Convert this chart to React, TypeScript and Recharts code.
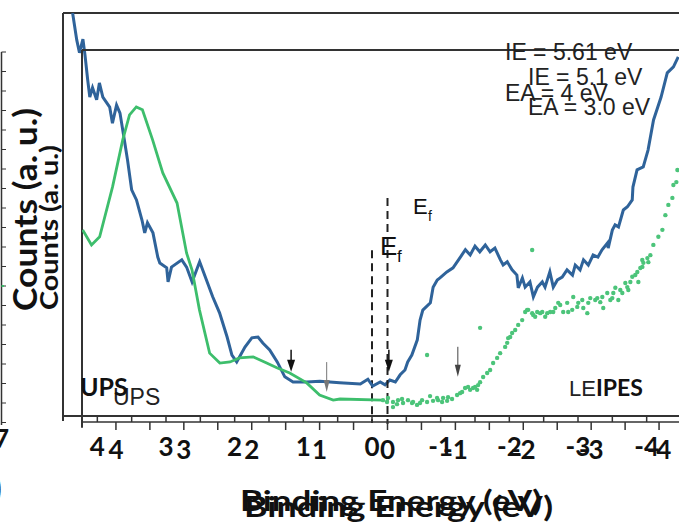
import React from "react";
import {
  LineChart,
  ComposedChart,
  Line,
  Scatter,
  XAxis,
  YAxis,
  ReferenceLine,
  ReferenceDot,
} from "recharts";

// tick positions shared by both overlaid frames (binding energy, eV)
const xTicks = [4, 3.5, 3, 2.5, 2, 1.5, 1, 0.5, 0, -0.5, -1, -1.5, -2, -2.5, -3, -3.5, -4];

// frame A (outer plot): blue spectrum, x = binding energy, y = counts (a.u.)
const blueX = [
  4.36, 4.3, 4.26, 4.21, 4.18, 4.14, 4.11, 4.07, 4.01, 3.97, 3.92, 3.82, 3.78, 3.72, 3.67, 3.6,
  3.56, 3.5, 3.43, 3.35, 3.31, 3.27, 3.19, 3.12, 3.09, 2.99, 2.97, 2.92, 2.77, 2.7, 2.62, 2.51,
  2.4, 2.32, 2.22, 2.11, 2.04, 1.97, 1.85, 1.75, 1.66, 1.59, 1.49, 1.38, 1.27, 1.15, 0.95, 0.76,
  0.47, 0.17, 0.06, -0.01, -0.12, -0.19, -0.26, -0.34, -0.41, -0.48, -0.52, -0.58, -0.66, -0.7,
  -0.74, -0.85, -0.89, -0.95, -0.99, -1.09, -1.18, -1.28, -1.36, -1.43, -1.5, -1.57, -1.65,
  -1.72, -1.79, -1.87, -1.91, -1.97, -2.04, -2.11, -2.13, -2.19, -2.23, -2.3, -2.35, -2.41,
  -2.48, -2.52, -2.59, -2.64, -2.7, -2.77, -2.84, -2.92, -2.96, -3.03, -3.08, -3.15, -3.22,
  -3.29, -3.35, -3.43, -3.44, -3.5, -3.54, -3.59, -3.66, -3.72, -3.79, -3.8, -3.86, -3.95,
  -4.02, -4.1, -4.21, -4.3, -4.39, -4.46,
];
const blueY = [
  100, 93.3, 90.1, 93.5, 89.6, 83.3, 79.1, 81.4, 78.4, 82.6, 79.1, 76.6, 72.6, 77.1, 75.1, 67.7,
  63.4, 56, 53.5, 48.5, 45.3, 47.8, 45.3, 39.3, 37.8, 36.6, 33.1, 36.8, 38.6, 36.8, 33.1, 38.1,
  33.1, 29.4, 25.4, 19.4, 14.9, 13.2, 16.9, 19.2, 19.4, 17.9, 16.2, 13.2, 9.5, 8.2, 8.2, 8.4,
  8.0, 7.7, 8.9, 7.2, 8.2, 7.5, 8.7, 8.2, 10.0, 11.2, 13.2, 14.9, 18.7, 23.6,
  26.1, 27.9, 31.8, 33.6, 34.1, 35.6, 36.6, 39.1, 41.1, 39.8, 42.0, 40.6, 42.3,
  40.6, 41.5, 38.6, 37.3, 38.1, 36.1, 34.8, 31.6, 34.1, 31.8, 33.1, 29.4, 31.8,
  33.1, 31.8, 35.6, 31.8, 33.6, 34.3, 36.1, 34.8, 37.3, 36.1, 38.6, 37.3, 39.8,
  39.3, 41.1, 42.8, 41.5, 46.0, 47.3, 46.8, 51.0, 51.8, 53.5, 56.7, 61.0, 61.7,
  65.9, 73.4, 79.1, 85.1, 86.6, 89.1,
];

// frame B (inner plot): green UPS line
const upsX = [
  4.49, 4.36, 4.24, 4.05, 3.9, 3.8, 3.7, 3.61, 3.46, 3.31, 3.1, 2.96, 2.88, 2.77, 2.62, 2.47,
  2.32, 2.18, 1.98, 1.78, 1.63, 1.44, 1.19, 1.0, 0.8, 0.7, 0.07,
];
const upsY = [
  51.0, 46.9, 49.1, 62.7, 75.5, 82.3, 84.5, 83.7, 75.5, 66.5, 58.3, 44.7, 40.1, 29.2, 17.4, 14.7,
  15.0, 16.1, 16.4, 14.7, 13.4, 12.0, 9.3, 6.0, 4.6, 4.9, 4.6,
];

// frame B: green IPES points
const ipesX = [
  0.066, -0.007, -0.081, -0.081, -0.155, -0.229, -0.302, -0.376, -0.435, -0.509, -0.583, -0.627,
  -0.671, -0.745, -0.819, -0.892, -0.951, -1.025, -1.099, -1.143, -1.187, -1.261, -1.32, -1.364,
  -1.409, -1.468, -1.512, -1.556, -1.615, -1.659, -1.733, -1.763, -1.777, -1.807, -1.836, -1.881,
  -1.925, -1.984, -2.028, -2.072, -2.146, -2.205, -2.249, -2.323, -2.397, -2.471, -2.544, -2.588,
  -2.647, -2.721, -2.736, -2.81, -2.884, -2.943, -2.987, -3.06, -3.134, -3.178, -3.237, -3.311,
  -3.356, -3.4, -3.459, -3.503, -3.547, -3.606, -3.65, -3.695, -3.724, -3.753, -3.769, -3.828,
  -3.872, -3.916, -3.99, -4.049, -4.093, -4.137, -4.196, -4.211, -4.255, -4.27, -0.583, -1.364,
  -2.131, -2.057, -2.131, -2.175, -2.279, -2.353, -2.441, -2.515, -2.662, -2.795, -2.869, -2.957,
  -3.09, -3.164, -3.282, -3.326, -3.429, -3.532, -3.577, -3.68, -3.754, -3.842, 0.007, -0.14,
  -0.214, -0.361, -0.479, -0.73, -0.804, -0.878, -1.069, -1.217, -1.291, -1.335,
];
const ipesY = [
  4.6, 5.2, 4.1, 2.7, 4.6, 3.8, 4.6, 4.1, 3.3, 4.6, 4.1, 5.7,
  4.4, 4.6, 5.2, 5.4, 4.9, 6.0, 6.8, 7.9, 8.2, 7.9, 7.4, 9.5,
  10.9, 12.0, 12.8, 14.7, 16.1, 17.4, 19.1, 20.2, 21.5, 21.8, 22.9, 23.7,
  25.1, 26.4, 28.6, 29.2, 27.8, 28.6, 28.3, 27.3, 28.6, 29.7, 30.5, 28.6,
  31.1, 29.2, 32.7, 31.1, 29.7, 28.3, 32.4, 31.9, 31.3, 29.7, 33.8, 32.4,
  35.2, 31.9, 33.8, 36.5, 34.6, 38.2, 38.7, 36.8, 40.6, 42.8, 42.0, 43.3,
  44.1, 46.9, 49.1, 51.0, 55.0, 57.8, 59.7, 63.2, 64.0, 67.3, 16.9, 24.3,
  45.5, 29.2, 28.3, 27.3, 28.6, 28.3, 28.6, 31.1, 28.6, 30.0, 31.9, 31.1,
  32.4, 32.7, 31.9, 33.8, 34.6, 35.4, 36.8, 39.5, 40.9, 42.2, 4.1, 3.5,
  4.9, 3.8, 3.8, 5.2, 4.1, 4.4, 6.5, 7.4, 8.2, 8.7,
];

// arrow markers (tip positions, in each frame's own units)
const arrowsAX = [0.66, -1.25];
const arrowsAY = [5.7, 9.5];
const arrowsBX = [1.42, -0.02];
const arrowsBY = [12.3, 12.3];

const blueData = blueX.map((x, i) => ({ x, y: blueY[i] }));
const upsData = upsX.map((x, i) => ({ x, y: upsY[i] }));
const ipesData = ipesX.map((x, i) => ({ x, y: ipesY[i] }));

const BLUE = "#2f639a";
const GREEN = "#3dbe6c";
const DOT = "#4cc47a";
const FRAME = "#333";

const calibri = "Lato, 'Open Sans', sans-serif";
const arial = "'Liberation Sans', Arial, sans-serif";

function tickLabel(dy: number) {
  return (props: any) => {
    const { x, y, payload } = props;
    if (!Number.isInteger(payload.value)) return <g />;
    return (
      <text x={x} y={y + dy} textAnchor="middle" fontFamily={calibri} fontWeight={700} fontSize={26} fill="#111">
        {String(payload.value)}
      </text>
    );
  };
}

function arrow(len: number, color: string, w: number, head: number) {
  return (p: any) => (
    <g>
      <line x1={p.cx} y1={p.cy - len} x2={p.cx} y2={p.cy - 6} stroke={color} strokeWidth={w} />
      <polygon
        points={`${p.cx - head / 2},${p.cy - 12} ${p.cx + head / 2},${p.cy - 12} ${p.cx},${p.cy}`}
        fill={color}
      />
    </g>
  );
}

function LeftStrip() {
  const ticks = [];
  for (let y = 52; y <= 425; y += 19.5) ticks.push(y);
  return (
    <g>
      <line x1={1.5} y1={52} x2={1.5} y2={425} stroke={FRAME} strokeWidth={1.5} />
      {ticks.map((y) => (
        <line key={y} x1={1.5} y1={y} x2={6} y2={y} stroke={FRAME} strokeWidth={1} />
      ))}
      <line x1={1.5} y1={286} x2={4} y2={286} stroke={GREEN} strokeWidth={2} />
      <text x={-6} y={448} fontFamily={calibri} fontWeight={700} fontSize={26} fill="#111">7</text>
      <text x={-9} y={502} fontFamily={calibri} fontWeight={700} fontSize={40} fill="#111">)</text>
    </g>
  );
}

export default function App() {
  return (
    <div
      style={{
        position: "absolute",
        left: 0,
        top: 0,
        width: 679,
        height: 525,
        overflow: "hidden",
        background: "#fff",
      }}
    >
      {/* frame A: outer plot with the blue spectrum */}
      <div style={{ position: "absolute", left: 0, top: 0 }}>
        <LineChart width={681} height={525} margin={{ top: 13, right: 0, bottom: 0, left: 63 }}>
          <XAxis
            type="number"
            dataKey="x"
            domain={[-4.5, 4.5]}
            reversed
            ticks={xTicks}
            interval={0}
            height={109}
            tickSize={6}
            axisLine={{ stroke: FRAME, strokeWidth: 2 }}
            tickLine={{ stroke: FRAME, strokeWidth: 1.5 }}
            tick={tickLabel(32)}
            allowDataOverflow
          />
          <YAxis type="number" domain={[-0.25, 100]} width={0} hide allowDataOverflow />
          <ReferenceLine y={100} stroke={FRAME} strokeWidth={2} />
          <ReferenceLine
            segment={[{ x: 4.5, y: 100 }, { x: 4.5, y: -1.5 }]}
            stroke={FRAME}
            strokeWidth={2}
            ifOverflow="visible"
          />
          <ReferenceLine
            segment={[{ x: 0, y: 41 }, { x: 0, y: -2 }]}
            stroke="#222"
            strokeWidth={2}
            strokeDasharray="8 5"
            ifOverflow="visible"
          />
          {arrowsAX.map((x, i) => (
            <ReferenceDot
              key={i}
              x={x}
              y={arrowsAY[i]}
              r={0}
              ifOverflow="visible"
              shape={arrow(30, i === 0 ? "#777" : "#444", 1, 6)}
            />
          ))}
          <Line
            data={blueData}
            dataKey="y"
            stroke={BLUE}
            strokeWidth={3}
            dot={false}
            isAnimationActive={false}
          />
        </LineChart>
      </div>

      {/* frame B: inner plot with UPS line and IPES points */}
      <div style={{ position: "absolute", left: 0, top: 0 }}>
        <ComposedChart width={693} height={525} margin={{ top: 50, right: 0, bottom: 0, left: 82 }}>
          <XAxis
            type="number"
            dataKey="x"
            domain={[-4.5, 4.5]}
            reversed
            ticks={xTicks}
            interval={0}
            height={103}
            tickSize={8}
            axisLine={{ stroke: FRAME, strokeWidth: 1.5 }}
            tickLine={{ stroke: FRAME, strokeWidth: 1.5 }}
            tick={tickLabel(27)}
            allowDataOverflow
          />
          <YAxis type="number" domain={[-1.36, 100]} width={0} hide allowDataOverflow />
          <ReferenceLine y={100} stroke={FRAME} strokeWidth={2} />
          <ReferenceLine
            segment={[{ x: 4.5, y: 100 }, { x: 4.5, y: -2.9 }]}
            stroke={FRAME}
            strokeWidth={2}
            ifOverflow="visible"
          />
          <ReferenceLine
            segment={[{ x: 0, y: 59.7 }, { x: 0, y: -1.9 }]}
            stroke="#222"
            strokeWidth={2}
            strokeDasharray="8 5"
            ifOverflow="visible"
          />
          {arrowsBX.map((x, i) => (
            <ReferenceDot
              key={i}
              x={x}
              y={arrowsBY[i]}
              r={0}
              ifOverflow="visible"
              shape={arrow(22, "#111", 1.5, 8)}
            />
          ))}
          <Line
            data={upsData}
            dataKey="y"
            stroke={GREEN}
            strokeWidth={2.8}
            dot={false}
            isAnimationActive={false}
          />
          <Scatter
            data={ipesData}
            dataKey="y"
            isAnimationActive={false}
            shape={(p: any) => <circle cx={p.cx} cy={p.cy} r={2.2} fill={DOT} />}
          />
        </ComposedChart>
      </div>

      {/* labels and annotations of the two overlaid figures */}
      <svg width={679} height={525} style={{ position: "absolute", left: 0, top: 0, pointerEvents: "none" }}>
        <LeftStrip />
        <text
          transform="translate(37,311) rotate(-90)"
          fontFamily={calibri}
          fontWeight={700}
          fontSize={32}
          textLength={203}
          lengthAdjust="spacingAndGlyphs"
          fill="#111"
        >
          Counts (a. u.)
        </text>
        <text
          transform="translate(58,310) rotate(-90)"
          fontFamily={calibri}
          fontWeight={700}
          fontSize={24}
          textLength={165}
          lengthAdjust="spacingAndGlyphs"
          fill="#111"
        >
          Counts (a. u.)
        </text>
        <text x={240} y={511} fontFamily={calibri} fontWeight={700} fontSize={28} textLength={302} lengthAdjust="spacingAndGlyphs" fill="#111">
          Binding Energy (eV)
        </text>
        <text x={244} y={517} fontFamily={calibri} fontWeight={700} fontSize={28} textLength={309} lengthAdjust="spacingAndGlyphs" fill="#111">
          Binding Energy (eV)
        </text>

        <text x={505} y={60} fontFamily={arial} fontSize={23} fill="#222">IE = 5.61 eV</text>
        <text x={528} y={85} fontFamily={arial} fontSize={23} fill="#222">IE = 5.1 eV</text>
        <text x={505} y={101} fontFamily={arial} fontSize={23} fill="#222">EA = 4 eV</text>
        <text x={528} y={115} fontFamily={arial} fontSize={23} fill="#222">EA = 3.0 eV</text>

        <text x={413} y={214} fontFamily={arial} fontSize={22} fill="#111">E</text>
        <text x={428} y={221} fontFamily={arial} fontSize={14} fill="#111">f</text>
        <text x={380} y={255} fontFamily={arial} fontSize={26} fill="#111">E</text>
        <text x={397} y={262} fontFamily={arial} fontSize={17} fill="#111">f</text>

        <text x={113} y={405} fontFamily={arial} fontSize={23} fill="#222">UPS</text>
        <text x={80} y={396} fontFamily={calibri} fontWeight={700} fontSize={25} fill="#111">UPS</text>
        <text x={569} y={396} fontFamily={arial} fontSize={22} fill="#222">
          <tspan fontSize={22}>LE</tspan>
          <tspan fontFamily={calibri} fontWeight={700} fontSize={23} fill="#111">IPES</tspan>
        </text>
      </svg>
    </div>
  );
}
